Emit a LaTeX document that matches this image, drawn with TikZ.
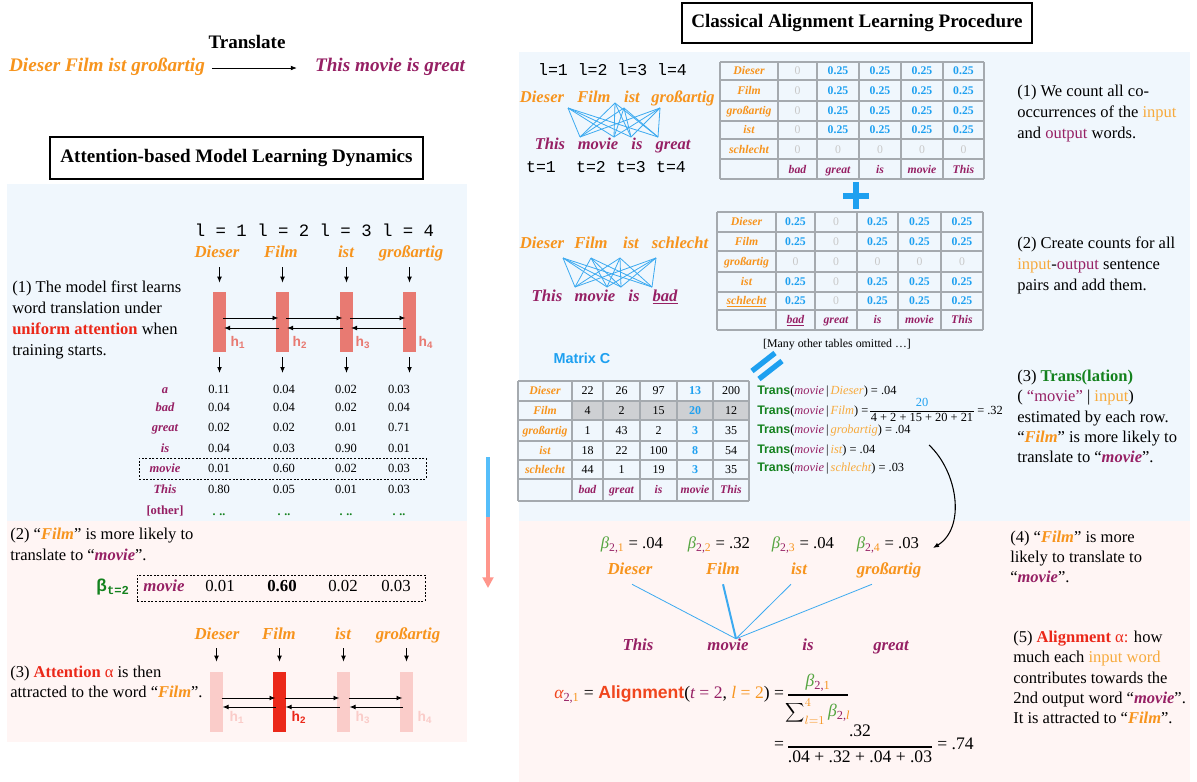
\documentclass[tikz,border=0pt]{standalone}
\usepackage{fontspec}
\setmainfont{Liberation Serif}
\setsansfont{Liberation Sans}
\setmonofont{Liberation Mono}
\usetikzlibrary{arrows.meta,calc}
\definecolor{cOr}{RGB}{247,148,29}
\definecolor{cOrL}{RGB}{247,170,60}
\definecolor{cPu}{RGB}{150,32,100}
\definecolor{cBl}{RGB}{30,160,240}
\definecolor{cLine}{RGB}{60,170,240}
\definecolor{cLB}{RGB}{240,247,253}
\definecolor{cLP}{RGB}{255,245,244}
\definecolor{cSal}{RGB}{232,122,114}
\definecolor{cPale}{RGB}{250,204,201}
\definecolor{cRed}{RGB}{235,40,25}
\definecolor{cGr}{RGB}{20,130,30}
\definecolor{cGr2}{RGB}{85,165,65}
\definecolor{cZero}{RGB}{200,200,200}
\definecolor{cGrid}{RGB}{165,170,175}
\definecolor{cHi}{RGB}{206,208,211}
\definecolor{cArB}{RGB}{85,190,250}
\definecolor{cArP}{RGB}{255,150,140}
\definecolor{cAl}{RGB}{240,70,30}
\newcommand\fsz[1]{\fontsize{#1}{#1}\selectfont}
\newcommand\src[1]{{\bfseries\itshape\color{cOr}#1}}
\newcommand\tgt[1]{{\bfseries\itshape\color{cPu}#1}}
\newcommand\Tr{{\sffamily\bfseries\color{cGr}Trans}}
\begin{document}
\begin{tikzpicture}[x=0.75pt,y=-0.75pt,
  tx/.style={inner sep=0pt,text height=8pt,text depth=2.5pt},
  srcw/.style={tx,font=\bfseries\itshape\fsz{12.6},text=cOr},
  tgtw/.style={tx,font=\bfseries\itshape\fsz{12.6},text=cPu},
  para/.style={tx,anchor=west,font=\fsz{12.4}},
  mono/.style={tx,font=\ttfamily\fsz{13}},
  arr/.style={-{Latex[length=4.5pt,width=3.6pt]},line width=0.7pt},
  hbar/.style={inner sep=0pt,minimum width=9.75pt,minimum height=45pt},
  hlab/.style={tx,font=\ttfamily\bfseries\fsz{10.5}},
  tnum/.style={tx,font=\fsz{9.4}},
  rowl/.style={tx,font=\bfseries\itshape\fsz{9.4},text=cPu},
  tline/.style={draw=cGrid,line width=0.9pt},
  tlab/.style={tx,font=\bfseries\itshape\fsz{8.8},text=cOr},
  tfoot/.style={tx,font=\bfseries\itshape\fsz{8.8},text=cPu},
  tq/.style={tx,font=\bfseries\fsz{8.8},text=cBl},
  tz/.style={tx,font=\fsz{8.8},text=cZero},
  mv/.style={tx,font=\fsz{9}},
  ttlbox/.style={draw,line width=2.2pt,inner sep=0pt,font=\bfseries\fsz{14.3}},
  eqs/.style={inner sep=0pt,text height=7pt,text depth=2pt,anchor=west,font=\fsz{9.3}},
  aline/.style={draw=cLine,line width=0.6pt},
  dbox/.style={draw,dash pattern=on 1.5pt off 1.2pt,line width=0.6pt,inner sep=0pt},
]
\useasboundingbox (0,0) rectangle (1197,782);
\fill[white] (0,0) rectangle (1197,782);
\fill[cLB] (7,184) rectangle (467,521);
\fill[cLB] (519,52) rectangle (1190,521);
\fill[cLP] (519,521) rectangle (1190,782);

% ---------- header ----------
\node[tx,font=\bfseries\fsz{14.3}] (trl) at (247,45) {Translate};
\node[srcw,font=\bfseries\itshape\fsz{14.4}] (hsrc) at (107,68) {Dieser Film ist großartig};
\node[tgtw,font=\bfseries\itshape\fsz{14.4}] (htgt) at (390,68) {This movie is great};
\draw[arr,line width=0.6pt,shorten <=5pt,shorten >=13.5pt] (hsrc.east) -- (htgt.west);

\node[ttlbox,minimum width=279.75pt,minimum height=31.5pt] (t1) at (236.5,158) {Attention-based Model Learning Dynamics};
\node[ttlbox,minimum width=262.5pt,minimum height=30pt] (t2) at (857,23) {Classical Alignment Learning Procedure};

% ---------- left panel (1) ----------
\node[mono] (lidx) at (314.5,233) {l = 1 l = 2 l = 3 l = 4};
\foreach \w/\xx [count=\i] in {Dieser/217,Film/281,ist/346,großartig/411}
  \node[srcw] (lw\i) at (\xx,254) {\w};
\foreach \xx [count=\i] in {219.5,282.5,346.5,409.5}{
  \node[hbar,fill=cSal] (lb\i) at (\xx,322) {};
  \coordinate (lo\i) at (\xx,373);
}
\foreach \i in {1,...,4}{
  \draw[arr,shorten <=4.5pt,shorten >=6.75pt] (lb\i.north |- lw\i.south) -- (lb\i.north);
  \draw[arr,shorten <=3.75pt] (lb\i.south) -- (lo\i);
}
\foreach \i/\j in {1/2,2/3,3/4}{
  \draw[arr] ($(lb\i.center)+(3.5,-4)$) -- ($(lb\j.center)+(-4,-4)$);
  \draw[arr] ($(lb\j.center)+(-3.5,6)$) -- ($(lb\i.center)+(4.5,6)$);
}
\foreach \xx [count=\i] in {238,300,363,426}
  \node[hlab,text=cSal] (lh\i) at (\xx,343) {h\textsubscript{\i}};

\node[para] (p1a) at (12,289) {(1) The model first learns};
\node[para] (p1b) at (12,310) {word translation under};
\node[para] (p1c) at (12,331) {{\bfseries\color{cRed}uniform attention} when};
\node[para] (p1d) at (12,352) {training starts.};

% table of probabilities
\foreach \w/\yy [count=\r] in {a/390,bad/408,great/428,is/449,movie/469,This/490}
  \node[rowl] (rl\r) at (165,\yy) {\w};
\node[rowl,font=\bfseries\fsz{9.4}] (rl7) at (165,511) {[other]};
\foreach \va/\vb/\vc/\vd/\yy [count=\r] in {0.11/0.04/0.02/0.03/390,0.04/0.04/0.02/0.04/408,0.02/0.02/0.01/0.71/428,0.04/0.03/0.90/0.01/449,0.01/0.60/0.02/0.03/469,0.80/0.05/0.01/0.03/490}{
  \node[tnum] (pv\r a) at (219,\yy) {\va};
  \node[tnum] (pv\r b) at (284,\yy) {\vb};
  \node[tnum] (pv\r c) at (346,\yy) {\vc};
  \node[tnum] (pv\r d) at (399,\yy) {\vd};
}
\foreach \xx [count=\i] in {219,284,346,399}
  \node[tx,font=\bfseries\fsz{9},text=cGr] (dots\i) at (\xx,512) {. ..};
\node[dbox,minimum width=215.25pt,minimum height=15.75pt] (mbox) at (282.5,468.5) {};

% ---------- left panel pink ----------
\fill[cLP] (7,521) rectangle (467,742);
\node[para] (p2a) at (10,536) {(2) “\src{Film}” is more likely to};
\node[para] (p2b) at (10,557) {translate to “\tgt{movie}”.};
\node[tx,font=\sffamily\bfseries\fsz{13},text=cGr] (btt) at (113,588) {β\textsubscript{\ttfamily\bfseries t=2}};
\node[dbox,minimum width=216pt,minimum height=19.5pt] (bbox) at (281,588) {};
\node[tgtw] (bmv) at (164,588) {movie};
\node[tx,font=\fsz{12.6}] (bv1) at (220,588) {0.01};
\node[tx,font=\bfseries\fsz{12.6}] (bv2) at (282,588) {0.60};
\node[tx,font=\fsz{12.6}] (bv3) at (343,588) {0.02};
\node[tx,font=\fsz{12.6}] (bv4) at (396,588) {0.03};

\foreach \w/\xx [count=\i] in {Dieser/217,Film/279,ist/343,großartig/408}
  \node[srcw] (mw\i) at (\xx,636) {\w};
\node[hbar,fill=cPale] (mb1) at (216.5,702) {};
\node[hbar,fill=cRed] (mb2) at (279.5,702) {};
\node[hbar,fill=cPale] (mb3) at (343.5,702) {};
\node[hbar,fill=cPale] (mb4) at (406.5,702) {};
\foreach \i in {1,...,4}
  \draw[arr,shorten <=3.75pt,shorten >=7.5pt] (mb\i.north |- mw\i.south) -- (mb\i.north);
\foreach \i/\j in {1/2,2/3,3/4}{
  \draw[arr] ($(mb\i.center)+(5,-4)$) -- ($(mb\j.center)+(-4,-4)$);
  \draw[arr] ($(mb\j.center)+(-4,5)$) -- ($(mb\i.center)+(6,5)$);
}
\node[hlab,text=cPale] (mh1) at (237,718) {h\textsubscript{1}};
\node[hlab,text=cRed] (mh2) at (299,718) {h\textsubscript{2}};
\node[hlab,text=cPale] (mh3) at (363,718) {h\textsubscript{3}};
\node[hlab,text=cPale] (mh4) at (425,718) {h\textsubscript{4}};
\node[para] (p3a) at (10,674) {(3) {\bfseries\color{cRed}Attention} {\color{cRed}α} is then};
\node[para] (p3b) at (10,694) {attracted to the word “\src{Film}”.};

% ---------- vertical arrow ----------
\coordinate (va) at (488,457);
\coordinate (vm) at (488,517);
\coordinate (vb) at (488,588);
\draw[cArB,line width=2.4pt] (va) -- (vm);
\draw[cArP,line width=2.4pt,-{Triangle[length=8pt,width=8pt]}] (vm) -- (vb);

% ---------- right panel: sentence 1 ----------
\node[mono,font=\ttfamily\fsz{12.4}] (ridx) at (612.5,72) {l=1 l=2 l=3 l=4};
\foreach \w/\xx [count=\i] in {Dieser/542,Film/594,ist/632,großartig/683}
  \node[srcw,font=\bfseries\itshape\fsz{12.4}] (aw\i) at (\xx,99) {\w};
\foreach \w/\xx [count=\i] in {This/550,movie/598,is/637,great/673}
  \node[tgtw,font=\bfseries\itshape\fsz{12.4}] (ao\i) at (\xx,146) {\w};
\foreach \w/\xx [count=\i] in {t=1/541,t=2/591,t=3/631,t=4/671}
  \node[mono,font=\ttfamily\fsz{12.4}] (at\i) at (\xx,169) {\w};
\coordinate (ua1) at (568,108); \coordinate (ua2) at (615,103);
\coordinate (ua3) at (624,108); \coordinate (ua4) at (660,108);
\coordinate (ub1) at (580,137); \coordinate (ub2) at (614,137);
\coordinate (ub3) at (631,137); \coordinate (ub4) at (658,137);
\foreach \i in {1,...,4}{\foreach \j in {1,...,4}{\draw[aline] (ua\i) -- (ub\j);}}

% table 1
\foreach \x in {720,778,817,859,901,943,984} \draw[tline] (\x,62) -- (\x,179);
\foreach \y in {62,80,101,121,139,159,179} \draw[tline] (720,\y) -- (984,\y);
\foreach \lab/\yy [count=\r] in {Dieser/71,Film/90.5,großartig/111,ist/130,schlecht/149.5}
  \node[tlab] (ta\r) at (749,\yy) {\lab};
\foreach \yy [count=\r] in {71,90.5,111,130}{
  \node[tz] (ta\r z) at (797.5,\yy) {0};
  \foreach \xx [count=\k] in {838,880,922,963.5}
    \node[tq] (ta\r v\k) at (\xx,\yy) {0.25};
}
\foreach \xx [count=\k] in {797.5,838,880,922,963.5}
  \node[tz] (ta5v\k) at (\xx,149.5) {0};
\foreach \w/\xx [count=\k] in {bad/797.5,great/838,is/880,movie/922,This/963.5}
  \node[tfoot] (taf\k) at (\xx,169.5) {\w};

% plus
\draw[cBl,line width=4pt] (856,182) -- (856,209);
\draw[cBl,line width=4pt] (843,196) -- (869,196);

% ---------- sentence 2 ----------
\foreach \w/\xx [count=\i] in {Dieser/542,Film/591,ist/631,schlecht/680}
  \node[srcw,font=\bfseries\itshape\fsz{12.5}] (bw\i) at (\xx,245) {\w};
\foreach \w/\xx [count=\i] in {This/547,movie/595,is/634}
  \node[tgtw,font=\bfseries\itshape\fsz{12.5}] (bo\i) at (\xx,298) {\w};
\node[tgtw,font=\bfseries\itshape\fsz{12.5}] (bo4) at (665,298) {\underline{bad}};
\coordinate (va1) at (563,258); \coordinate (va2) at (591,258);
\coordinate (va3) at (620,258); \coordinate (va4) at (656,258);
\coordinate (vb1) at (575,287); \coordinate (vb2) at (607,287);
\coordinate (vb3) at (621,287); \coordinate (vb4) at (652,287);
\foreach \i in {1,...,4}{\foreach \j in {1,...,4}{\draw[aline] (va\i) -- (vb\j);}}

% table 2
\foreach \x in {717,776,815,857,898,941,983} \draw[tline] (\x,212) -- (\x,330);
\foreach \y in {212,232,251,272,292,310,330} \draw[tline] (717,\y) -- (983,\y);
\foreach \lab/\yy [count=\r] in {Dieser/222,Film/241.5,großartig/261.5,ist/282}
  \node[tlab] (tb\r) at (746.5,\yy) {\lab};
\node[tlab] (tb5) at (746.5,301) {\underline{schlecht}};
\foreach \yy [count=\r] in {222,241.5,282,301}{
  \node[tq] (tb\r a) at (795.5,\yy) {0.25};
  \node[tz] (tb\r b) at (836,\yy) {0};
  \foreach \xx [count=\k] in {877.5,919.5,962}
    \node[tq] (tb\r v\k) at (\xx,\yy) {0.25};
}
\foreach \xx [count=\k] in {795.5,836,877.5,919.5,962}
  \node[tz] (tbz\k) at (\xx,261.5) {0};
\node[tfoot] (tbf1) at (795.5,320) {\underline{bad}};
\foreach \w/\xx [count=\k] in {great/836,is/877.5,movie/919.5,This/962}
  \node[tfoot] (tbg\k) at (\xx,320) {\w};
\node[tx,font=\fsz{8.9}] (omit) at (837,344) {[Many other tables omitted …]};

% equals
\draw[cBl,line width=4pt] (752,371) -- (775,353);
\draw[cBl,line width=4pt] (759,379) -- (782,361);

% ---------- Matrix C ----------
\node[tx,font=\sffamily\bfseries\fsz{10.8},text=cBl] (mcl) at (582,360) {Matrix C};
\fill[cHi] (572,401) rectangle (749,420);
\foreach \x in {518,572,603,640,677,713,749} \draw[tline] (\x,381) -- (\x,501);
\foreach \y in {381,401,420,441,460,479,501} \draw[tline] (518,\y) -- (749,\y);
\foreach \lab/\yy [count=\r] in {Dieser/391,Film/410.5,großartig/430.5,ist/450.5,schlecht/469.5}
  \node[tlab] (mc\r) at (545,\yy) {\lab};
\foreach \va/\vb/\vc/\vd/\ve/\yy [count=\r] in {22/26/97/13/200/391,4/2/15/20/12/410.5,1/43/2/3/35/430.5,18/22/100/8/54/450.5,44/1/19/3/35/469.5}{
  \node[mv] (mc\r a) at (587.5,\yy) {\va};
  \node[mv] (mc\r b) at (621.5,\yy) {\vb};
  \node[mv] (mc\r c) at (658.5,\yy) {\vc};
  \node[mv,font=\bfseries\fsz{9},text=cBl] (mc\r d) at (695,\yy) {\vd};
  \node[mv] (mc\r e) at (731,\yy) {\ve};
}
\foreach \w/\xx [count=\k] in {bad/587.5,great/621.5,is/658.5,movie/695,This/731}
  \node[tfoot] (mcf\k) at (\xx,490) {\w};

% Trans equations
\node[eqs] (e1) at (757,391) {\Tr(\textit{\color{cPu}movie}\,|\,\textit{\color{cOrL}Dieser}) = .04};
\node[eqs] (e2) at (757,411) {\Tr(\textit{\color{cPu}movie}\,|\,\textit{\color{cOrL}Film}) =};
\node[eqs,anchor=center,text=cBl,text height=6pt,text depth=1.5pt] (e2n) at (922,403) {20};
\node[eqs,anchor=center,text height=6pt,text depth=1.5pt] (e2d) at (922,418.5) {4 + 2 + 15 + 20 + 21};
\draw[line width=0.5pt] (870,411) -- (974,411);
\node[eqs] (e2r) at (977,411) {= .32};
\node[eqs] (e3) at (757,430) {\Tr(\textit{\color{cPu}movie}\,|\,\textit{\color{cOrL}grobartig}) = .04};
\node[eqs] (e4) at (757,450) {\Tr(\textit{\color{cPu}movie}\,|\,\textit{\color{cOrL}ist}) = .04};
\node[eqs] (e5) at (757,468) {\Tr(\textit{\color{cPu}movie}\,|\,\textit{\color{cOrL}schlecht}) = .03};

\coordinate (cs) at (929,445);
\coordinate (ce) at (933,548);
\draw[arr,line width=0.8pt] (cs) .. controls (958,472) and (966,528) .. (ce);

% ---------- right pink ----------
\foreach \xx/\k/\v in {632/1/.04,719/2/.32,803/3/.04,888/4/.03}
  \node[tx,font=\fsz{12.5}] (bt\k) at (\xx,545) {{\itshape\color{cGr2}β}\textsubscript{\color{cPu}2,\color{cOr}\k} = \v};
\foreach \w/\xx [count=\i] in {Dieser/630,Film/723,ist/799,großartig/889}
  \node[srcw] (cw\i) at (\xx,571) {\w};
\foreach \w/\xx [count=\i] in {This/638,movie/728,is/808,great/891}
  \node[tgtw] (co\i) at (\xx,647) {\w};
\draw[aline] ($(cw1.south)+(2,6)$) -- ($(co2.north)+(8,-1)$);
\draw[aline,line width=1.5pt] ($(cw2.south)+(0,6)$) -- ($(co2.north)+(8,-1)$);
\draw[aline] ($(cw3.south)+(-8,6)$) -- ($(co2.north)+(8,-1)$);
\draw[aline] ($(cw4.south)+(-17,6)$) -- ($(co2.north)+(8,-1)$);

\node[tx,anchor=west,font=\fsz{13.2}] (al) at (554,695) {{\itshape\color{cAl}α}\textsubscript{\color{cPu}2,\color{cOr}1} = {\sffamily\bfseries\color{cAl}Alignment}({\itshape\color{cPu}t} {\color{cPu}= 2}, {\itshape\color{cOr}l} {\color{cOr}= 2}) =};
\node[tx,font=\fsz{13.2}] (aln) at (818,683) {{\itshape\color{cGr2}β}\textsubscript{\color{cPu}2,\color{cOr}1}};
\draw[line width=0.9pt] (788,695) -- (848,695);
\node[tx,font=\fsz{13.2}] (ald) at (818,713) {$\displaystyle\sum\nolimits_{\textcolor{cOr}{l=1}}^{\textcolor{cOr}{4}}$\,{\itshape\color{cGr2}β}\textsubscript{\color{cPu}2,\color{cOr}\itshape l}};
\node[tx,font=\fsz{13.2}] (aeq) at (779,746) {=};
\node[tx,font=\fsz{13.2}] (a2n) at (860,733) {.32};
\draw[line width=0.9pt] (788,747) -- (932,747);
\node[tx,font=\fsz{13.2}] (a2d) at (860,759) {.04 + .32 + .04 + .03};
\node[tx,anchor=west,font=\fsz{13.2}] (a2r) at (937,746) {= .74};

% ---------- right text column ----------
\node[para] (q1a) at (1017,93) {(1) We count all co-};
\node[para] (q1b) at (1017,114) {occurrences of the {\color{cOrL}input}};
\node[para] (q1c) at (1017,135) {and {\color{cPu}output} words.};
\node[para] (q2a) at (1017,245) {(2) Create counts for all};
\node[para] (q2b) at (1017,266) {{\color{cOrL}input}-{\color{cPu}output} sentence};
\node[para] (q2c) at (1017,287) {pairs and add them.};
\node[para] (q3a) at (1017,378) {(3) {\bfseries\color{cGr}Trans(lation)}};
\node[para] (q3b) at (1017,398) {( {\color{cPu}“movie”} | {\color{cOrL}input})};
\node[para] (q3c) at (1017,419) {estimated by each row.};
\node[para] (q3d) at (1017,439) {“\src{Film}” is more likely to};
\node[para] (q3e) at (1017,459) {translate to “\tgt{movie}”.};
\node[para] (q4a) at (1010,539) {(4) “\src{Film}” is more};
\node[para] (q4b) at (1010,559) {likely to translate to};
\node[para] (q4c) at (1010,579) {“\tgt{movie}”.};
\node[para] (q5a) at (1013,639) {(5) {\bfseries\color{cRed}Alignment} {\color{cRed}α:} how};
\node[para] (q5b) at (1013,659) {much each {\color{cOrL}input word}};
\node[para] (q5c) at (1013,680) {contributes towards the};
\node[para] (q5d) at (1013,700) {2nd output word “\tgt{movie}”.};
\node[para] (q5e) at (1013,720) {It is attracted to “\src{Film}”.};
\end{tikzpicture}
\end{document}
